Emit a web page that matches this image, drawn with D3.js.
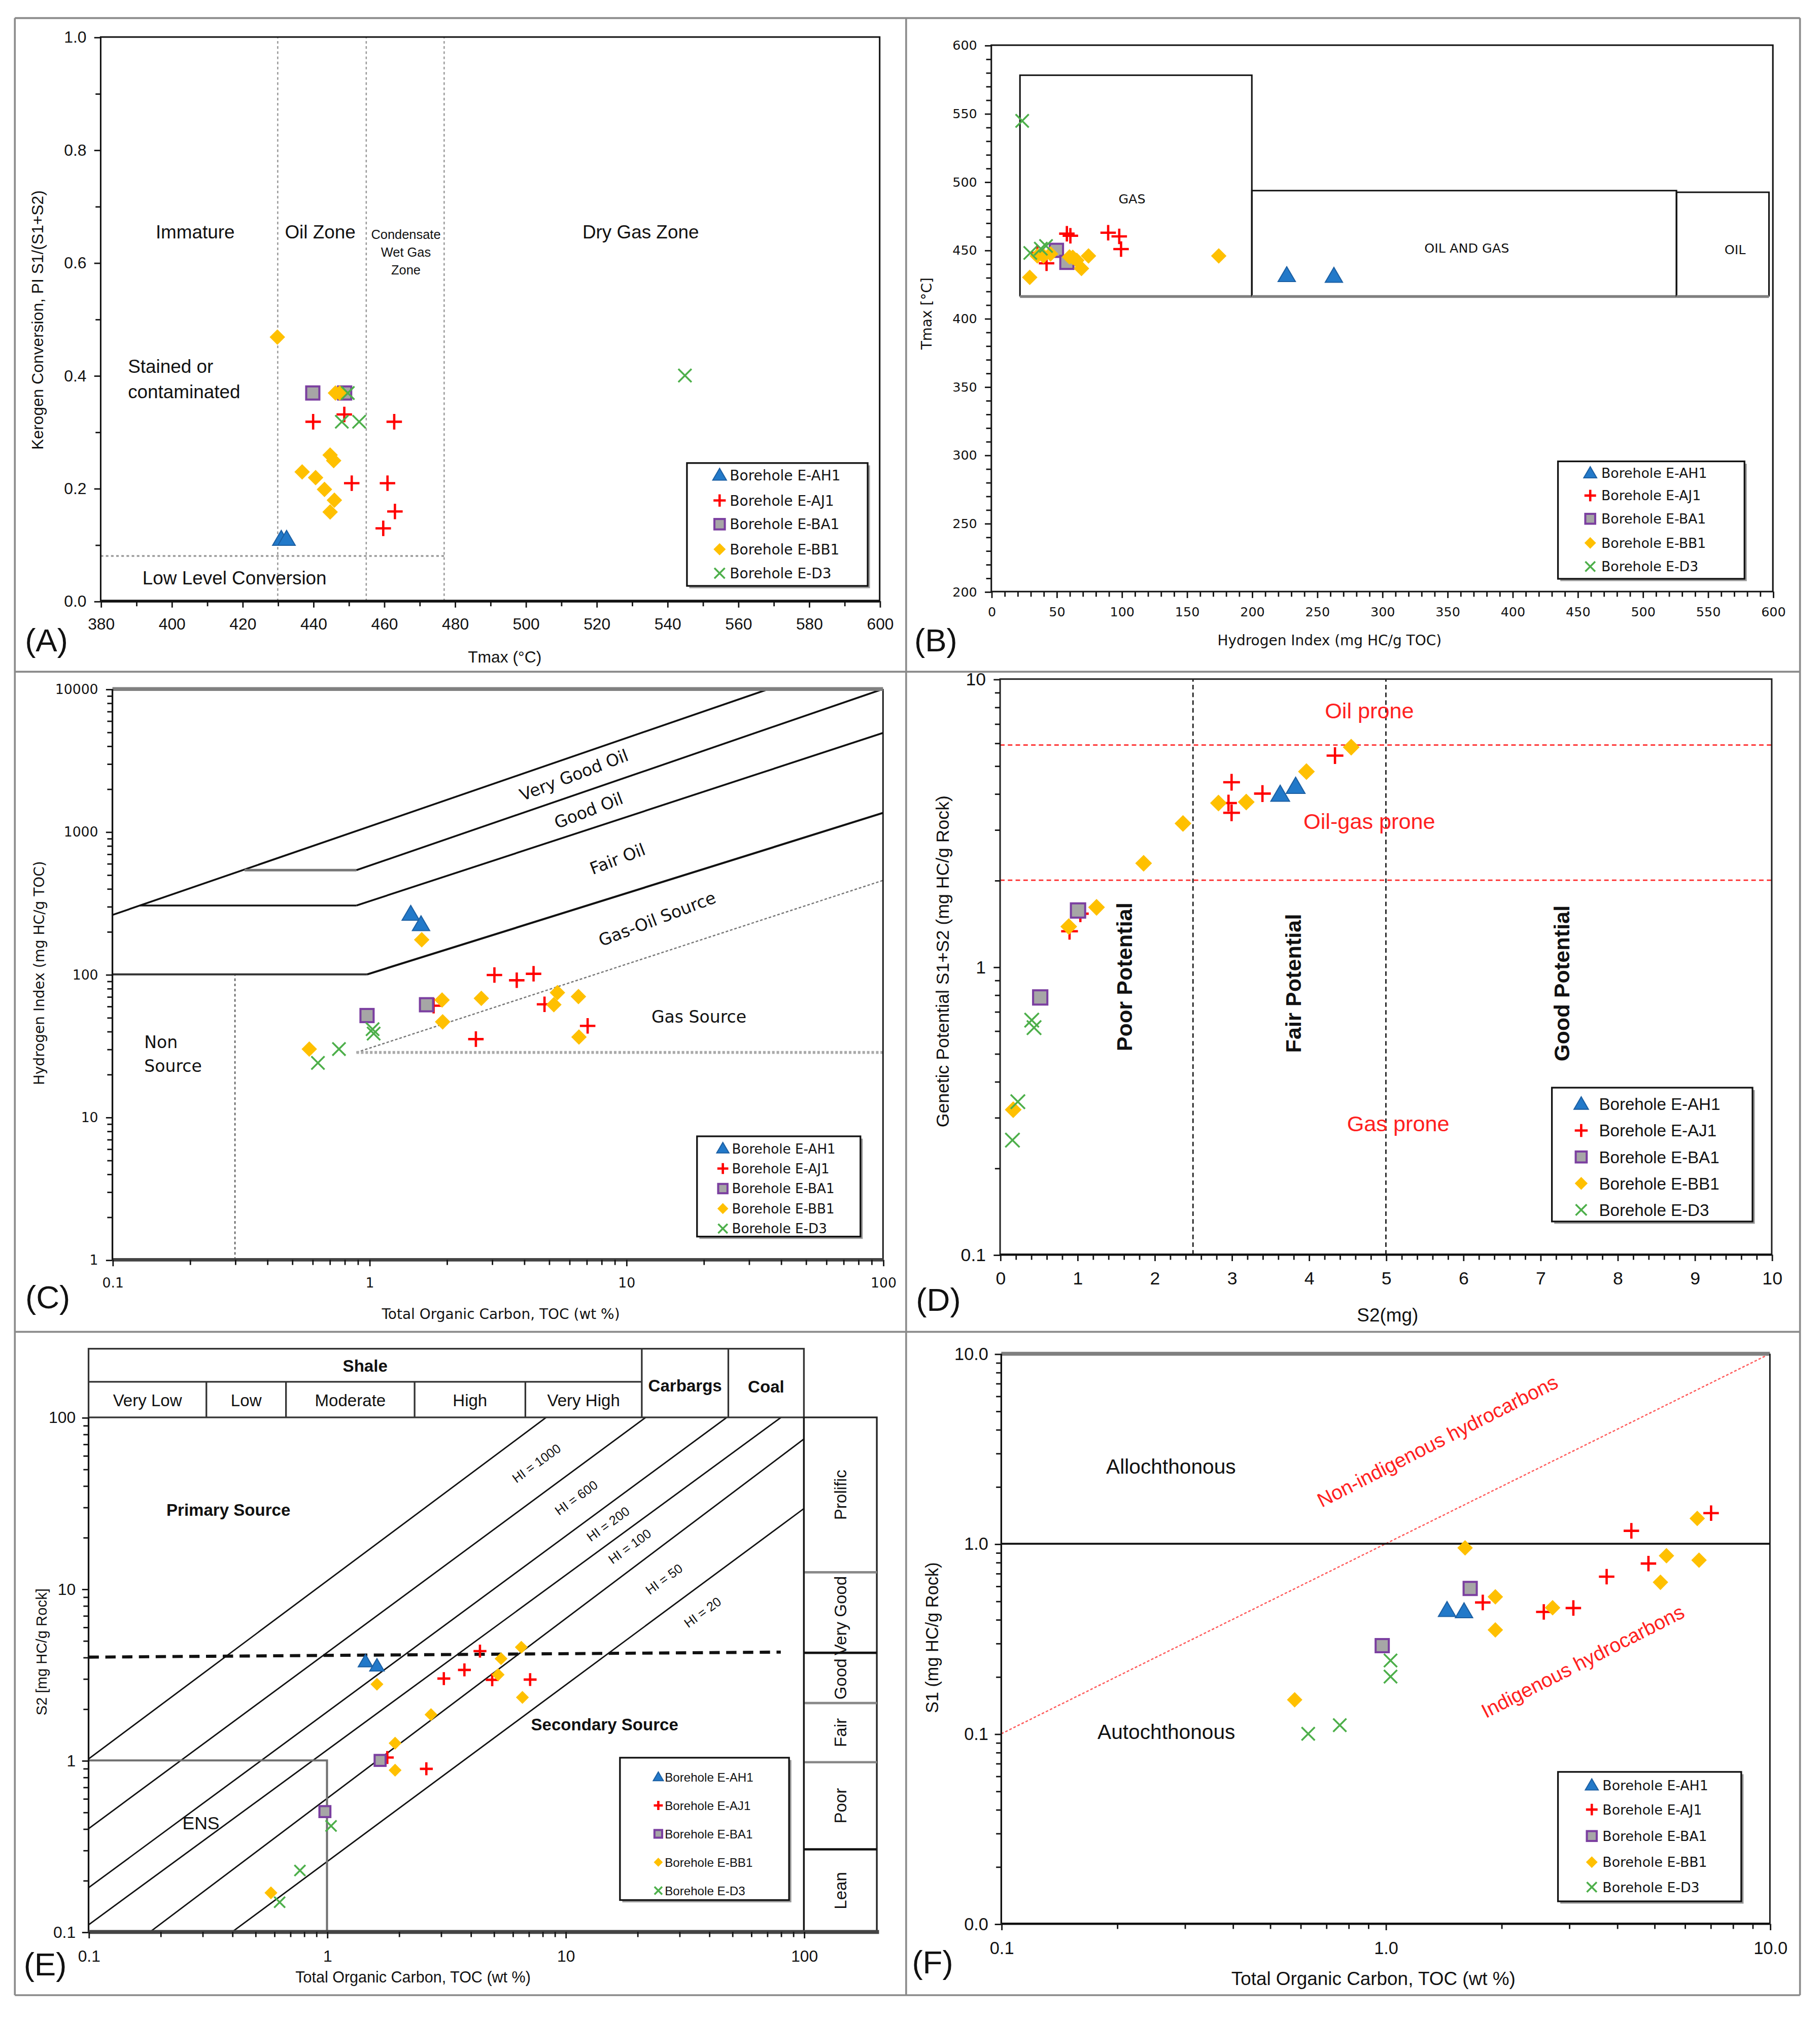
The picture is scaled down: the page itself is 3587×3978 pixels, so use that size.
<!DOCTYPE html>
<html><head><meta charset="utf-8">
<script src="https://cdn.jsdelivr.net/npm/d3@7"></script>
<style>html,body{margin:0;padding:0;background:#fff;} svg{display:block;}</style>
</head><body><svg id="c"></svg>
<script>
// ================= DATA =================
const seriesNames = ["Borehole E-AH1","Borehole E-AJ1","Borehole E-BA1","Borehole E-BB1","Borehole E-D3"];
const seriesKeys  = ["AH1","AJ1","BA1","BB1","D3"];

// Panel A : [Tmax (°C), PI = S1/(S1+S2)]
const aAH1 = [[431,0.11],[432.5,0.11]];
const aAJ1 = [[440,0.318],[448.8,0.331],[462.9,0.318],[450.9,0.209],[461,0.209],[463.1,0.159],[459.8,0.129]];
const aBA1 = [[439.9,0.369],[448.9,0.369]];
const aBB1 = [[429.9,0.468],[446.3,0.369],[447.5,0.369],[444.8,0.259],[445.8,0.249],[436.9,0.229],[440.7,0.219],[443.2,0.198],[446,0.179],[444.8,0.158]];
const aD3  = [[449.8,0.369],[448.1,0.318],[453,0.318],[545,0.40]];
const aZoneLimits = [430,455,477];      // Tmax boundaries
const aLowConv = 0.08;                  // PI boundary

// Panel B : [HI, Tmax]
const bAH1 = [[226.8,431.5],[263,431]];
const bAJ1 = [[58,462],[60.7,460.5],[89.7,462.7],[98.2,460],[99.6,450.7],[42.4,440.3],[35.3,447.9]];
const bBA1 = [[50,449.8],[58,441]];
const bBB1 = [[29.5,430],[35.3,445.7],[40,445.7],[45.5,447.2],[62.5,444.7],[65.6,442.5],[69.2,436.5],[74.6,445.7],[174.6,445.7],[60,445]];
const bD3  = [[23.7,544.6],[29.9,447.9],[38,451],[42,453]];
// boxes: [HI min, HI max, Tmax min, Tmax max]
const bBoxGas    = [22,200,416,578];
const bBoxOilGas = [200,526,416,493.5];
const bBoxOil    = [526,597,416,492.3];

// Panel C : [TOC, HI]
const cAH1 = [[1.45,265],[1.59,224]];
const cAJ1 = [[3.07,99],[3.75,91],[4.36,101],[4.81,61.7],[7.08,43.6],[2.6,35.2],[1.78,60.4]];
const cBA1 = [[0.98,51.5],[1.67,61.3]];
const cBB1 = [[1.6,175],[1.92,66.2],[1.93,46.5],[2.73,68],[5.4,74.5],[5.23,61.3],[6.52,70],[6.55,36.4],[0.584,30]];
const cD3  = [[0.762,30],[0.631,24],[1.03,41.3],[1.04,38.5]];
const cLineVeryGood = [[0.1,261],[35.9,10000]];
const cStepVeryGood = [[0.327,538],[0.891,538]];
const cLineGood     = [[0.891,538],[100,10000]];
const cStepGood     = [[0.128,304],[0.891,304]];
const cLineFair     = [[0.891,304],[100,4924]];
const cStepFair     = [[0.1,100],[0.98,100]];
const cLineGasOil   = [[0.98,100],[100,1355]];
const cDotDiag      = [[0.891,28.4],[100,456]];
const cDotHoriz     = [[0.891,28.4],[100,28.4]];
const cDotVert      = [[0.3,1],[0.3,100]];

// Panel D : [S2, S1+S2]
const dAH1 = [[3.63,3.97],[3.83,4.23]];
const dAJ1 = [[3.0,4.38],[2.96,3.71],[3.0,3.43],[3.4,4.0],[4.34,5.42],[0.9,1.33],[1.04,1.53]];
const dBA1 = [[1.01,1.57],[0.52,0.783]];
const dBB1 = [[4.55,5.8],[3.97,4.77],[2.83,3.71],[3.19,3.74],[2.37,3.15],[1.86,2.29],[1.25,1.61],[0.89,1.38],[0.17,0.319]];
const dD3  = [[0.41,0.653],[0.44,0.615],[0.23,0.34],[0.16,0.25]];
const dPotentialLimits = [2.5,5];
const dProneLimits = [5.9,2.0];

// Panel E : [TOC, S2]
const eAH1 = [[1.45,3.77],[1.62,3.56]];
const eAJ1 = [[4.38,4.34],[3.77,3.37],[3.09,3.0],[4.93,2.95],[7.11,2.96],[2.61,0.893],[1.79,1.04]];
const eBA1 = [[1.67,1.0],[0.98,0.503]];
const eBB1 = [[6.53,4.57],[5.37,3.92],[5.22,3.16],[6.6,2.33],[1.62,2.78],[2.73,1.85],[1.93,1.26],[1.93,0.877],[0.582,0.169]];
const eD3  = [[1.04,0.415],[0.77,0.228],[0.633,0.149]];
const eHILabels = ["HI = 1000","HI = 600","HI = 200","HI = 100","HI = 50","HI = 20"];
const eHILines = [
  [[0.1,1.02],[8.3,100]],
  [[0.1,0.40],[21.7,100]],
  [[0.1,0.181],[47.5,100]],
  [[0.1,0.11],[80.2,100]],
  [[0.181,0.1],[100,74.8]],
  [[0.40,0.1],[100,29.4]]
];
const eHILabelAt = [[7.56,54],[11.1,34],[15.1,23.9],[18.6,17.7],[25.9,11.4],[37.6,7.3]];
const eDashLine = [[0.1,4.0],[80,4.28]];
const eENS = [1,1];   // TOC, S2 limits of ENS box
const eShaleClasses = ["Very Low","Low","Moderate","High","Very High"];
const eShaleBounds  = [0.1,0.312,0.673,2.33,6.79,20.9];
const eRockBounds   = [20.9,48.2,100];   // Carbargs, Coal
const eS2Classes = ["Prolific","Very Good","Good","Fair","Poor","Lean"];
const eS2Bounds  = [100,12.5,4.24,2.16,0.976,0.303,0.1];

// Panel F : [TOC, S1]
const fAH1 = [[1.445,0.447],[1.6,0.44]];
const fAJ1 = [[7.03,1.45],[4.36,1.17],[4.83,0.787],[3.76,0.671],[3.08,0.459],[2.58,0.438],[1.79,0.491]];
const fBA1 = [[1.66,0.582],[0.98,0.291]];
const fBB1 = [[6.47,1.36],[5.38,0.865],[6.54,0.82],[5.19,0.627],[1.61,0.952],[1.93,0.526],[2.72,0.461],[1.93,0.352],[0.58,0.151]];
const fD3  = [[1.03,0.243],[1.03,0.2],[0.76,0.111],[0.629,0.1]];
const fDiag = [[0.1,0.1],[10,10]];
const fS1Limit = 1.0;

// ================= STYLE =================
const FN = "'Liberation Sans Narrow','Arial Narrow','Liberation Sans',Arial,sans-serif";
const FT = "'DejaVu Sans',Verdana,sans-serif";
const COL = {AH1:"#2279C9", AJ1:"#FF0000", BA1:"#A6A6A6", BB1:"#FFC000", D3:"#4DAF4A"};

const svg = d3.select("#c").attr("width",3587).attr("height",3978)
  .attr("viewBox","0 0 1410 1563.7");
svg.append("rect").attr("width",1410).attr("height",1563.7).attr("fill","#fff");

// frames
const frameG = svg.append("g").attr("stroke","#8a8a8a").attr("stroke-width",1.4);
[[11.5,14,1394.5,14],[11.5,520.5,1394.5,520.5],[11.5,1032,1394.5,1032],[11.5,1546,1394.5,1546],
 [11.5,14,11.5,1546],[702,14,702,1546],[1394.5,14,1394.5,1546]].forEach(l=>
  frameG.append("line").attr("x1",l[0]).attr("y1",l[1]).attr("x2",l[2]).attr("y2",l[3]));

// ---------- marker helper ----------
function marker(g, key, cx, cy, s){
  const h = s/2;
  if(key==="AH1"){
    const t=h*1.12;
    g.append("path").attr("d",`M${cx},${cy-t*1.0}L${cx+t},${cy+t*0.72}L${cx-t},${cy+t*0.72}Z`)
     .attr("fill",COL.AH1).attr("stroke","#1b5fa3").attr("stroke-width",0.8);
  } else if(key==="AJ1"){
    g.append("path").attr("d",`M${cx-h},${cy}H${cx+h}M${cx},${cy-h}V${cy+h}`)
     .attr("stroke",COL.AJ1).attr("stroke-width",1.8).attr("fill","none");
  } else if(key==="BA1"){
    const q=h*0.85;
    g.append("rect").attr("x",cx-q).attr("y",cy-q).attr("width",2*q).attr("height",2*q)
     .attr("fill",COL.BA1).attr("stroke","#7B3FA0").attr("stroke-width",1.6);
  } else if(key==="BB1"){
    g.append("path").attr("d",`M${cx},${cy-h}L${cx+h},${cy}L${cx},${cy+h}L${cx-h},${cy}Z`)
     .attr("fill",COL.BB1);
  } else {
    const q=h*0.85;
    g.append("path").attr("d",`M${cx-q},${cy-q}L${cx+q},${cy+q}M${cx+q},${cy-q}L${cx-q},${cy+q}`)
     .attr("stroke",COL.D3).attr("stroke-width",1.4).attr("fill","none");
  }
}
function plotSeries(g, x, y, sets, s){
  seriesKeys.forEach((k,i)=>{
    sets[i].forEach(p=>marker(g,k,x(p[0]),y(p[1]),s));
  });
}
function legend(g, x0, y0, w, h, rows, symX, txtX, font, fs, s){
  g.append("rect").attr("x",x0+1.8).attr("y",y0+1.8).attr("width",w).attr("height",h).attr("fill","#9a9a9a");
  g.append("rect").attr("x",x0).attr("y",y0).attr("width",w).attr("height",h)
    .attr("fill","#fff").attr("stroke","#111").attr("stroke-width",1.3);
  seriesKeys.forEach((k,i)=>{
    marker(g,k,symX,rows[i],s);
    g.append("text").attr("x",txtX).attr("y",rows[i]).attr("dy","0.36em")
      .attr("font-family",font).attr("font-size",fs).attr("fill","#111").text(seriesNames[i]);
  });
}
function styleAxis(sel, font, fs){
  sel.select(".domain").remove();
  sel.selectAll("line").attr("stroke","#111").attr("stroke-width",1.1);
  sel.selectAll("text").attr("font-family",font).attr("font-size",fs).attr("fill","#111");
}
function xAxis(g, x, yPos, majors, minors, fmt, font, fs, pad){
  if(minors) styleAxis(g.append("g").attr("transform",`translate(0,${yPos})`)
     .call(d3.axisBottom(x).tickValues(minors).tickFormat("").tickSize(4).tickSizeOuter(0)),font,fs);
  styleAxis(g.append("g").attr("transform",`translate(0,${yPos})`)
     .call(d3.axisBottom(x).tickValues(majors).tickFormat(fmt).tickSize(5).tickSizeOuter(0).tickPadding(pad)),font,fs);
}
function yAxis(g, y, xPos, majors, minors, fmt, font, fs, pad){
  if(minors) styleAxis(g.append("g").attr("transform",`translate(${xPos},0)`)
     .call(d3.axisLeft(y).tickValues(minors).tickFormat("").tickSize(4).tickSizeOuter(0)),font,fs);
  styleAxis(g.append("g").attr("transform",`translate(${xPos},0)`)
     .call(d3.axisLeft(y).tickValues(majors).tickFormat(fmt).tickSize(5).tickSizeOuter(0).tickPadding(pad)),font,fs);
}
function txt(g, x, y, s, font, fs, opt={}){
  const t = g.append("text").attr("x",x).attr("y",y).attr("font-family",font).attr("font-size",fs)
    .attr("fill",opt.fill||"#111").attr("text-anchor",opt.anchor||"middle").attr("dy",opt.dy||"0.35em")
    .attr("font-weight",opt.bold?"bold":"normal").text(s);
  if(opt.rot!==undefined) t.attr("transform",`rotate(${opt.rot},${x},${y})`);
  return t;
}
function seg(g, pts, x, y, stroke, w, dash){
  const l = g.append("path").attr("d",d3.line().x(p=>x(p[0])).y(p=>y(p[1]))(pts))
    .attr("fill","none").attr("stroke",stroke).attr("stroke-width",w);
  if(dash) l.attr("stroke-dasharray",dash);
  return l;
}
function logMinor(x){ return x.ticks().filter(v=>Math.abs(Math.log10(v)-Math.round(Math.log10(v)))>1e-6); }
function logMajor(x){ return x.ticks().filter(v=>Math.abs(Math.log10(v)-Math.round(Math.log10(v)))<1e-6); }

// ================= PANEL A =================
{
  const g = svg.append("g");
  const x = d3.scaleLinear().domain([380,600]).range([78,681.5]);
  const y = d3.scaleLinear().domain([0,1]).range([465.8,28.7]);
  aZoneLimits.forEach(v=>seg(g,[[v,0],[v,1]],x,y,"#9a9a9a",1,"2,2"));
  seg(g,[[380,aLowConv],[aZoneLimits[2],aLowConv]],x,y,"#9a9a9a",1.4,"2,2");
  g.append("rect").attr("x",78).attr("y",28.7).attr("width",603.5).attr("height",437.1)
    .attr("fill","none").attr("stroke","#111").attr("stroke-width",1.2);
  g.append("line").attr("x1",78).attr("x2",681.5).attr("y1",465.8).attr("y2",465.8).attr("stroke","#111").attr("stroke-width",2.2);
  xAxis(g,x,465.8,d3.range(380,601,20),d3.range(390,600,20),d3.format("d"),FN,12.5,8);
  yAxis(g,y,78,d3.range(0,1.01,0.2),d3.range(0.1,1,0.2),d3.format(".1f"),FN,12.5,6);
  txt(g,391,509,"Tmax (°C)",FN,12.5);
  txt(g,29,248,"Kerogen Conversion, PI S1/(S1+S2)",FN,12.5,{rot:-90});
  txt(g,36,496,"(A)",FN,25);
  txt(g,x(406.7),y(0.655),"Immature",FN,14.5);
  txt(g,x(442),y(0.655),"Oil Zone",FN,14.5);
  txt(g,x(466.2),y(0.650),"Condensate",FN,10);
  txt(g,x(466.2),y(0.619),"Wet Gas",FN,10);
  txt(g,x(466.2),y(0.587),"Zone",FN,10);
  txt(g,x(532.5),y(0.655),"Dry Gas Zone",FN,14.5);
  txt(g,x(387.7),y(0.416),"Stained or",FN,14.5,{anchor:"start"});
  txt(g,x(387.7),y(0.371),"contaminated",FN,14.5,{anchor:"start"});
  txt(g,x(417.8),y(0.041),"Low Level Conversion",FN,14.5);
  plotSeries(g,x,y,[aAH1,aAJ1,aBA1,aBB1,aD3],12);
  legend(g,532.2,358.8,140,95.2,[368.2,387.8,406.2,425.6,444.2],557.5,565.4,FT,11,9.5);
}

// ================= PANEL B =================
{
  const g = svg.append("g");
  const x = d3.scaleLinear().domain([0,600]).range([768,1373.5]);
  const y = d3.scaleLinear().domain([200,600]).range([458.4,35]);
  g.append("rect").attr("x",768).attr("y",35).attr("width",605.5).attr("height",423.4)
    .attr("fill","none").attr("stroke","#111").attr("stroke-width",1.2);
  [bBoxGas,bBoxOilGas,bBoxOil].forEach(b=>{
    g.append("path").attr("d",`M${x(b[0])},${y(b[2])}V${y(b[3])}H${x(b[1])}V${y(b[2])}`)
      .attr("fill","none").attr("stroke","#111").attr("stroke-width",1.2);
    g.append("line").attr("x1",x(b[0])).attr("x2",x(b[1])).attr("y1",y(b[2])).attr("y2",y(b[2]))
      .attr("stroke","#808080").attr("stroke-width",2.2);
  });
  xAxis(g,x,458.4,d3.range(0,601,50),d3.range(0,600,10).filter(v=>v%50),d3.format("d"),FT,10,7);
  yAxis(g,y,768,d3.range(200,601,50),d3.range(200,600,10).filter(v=>v%50),d3.format("d"),FT,10,6);
  txt(g,1030,496,"Hydrogen Index (mg HC/g TOC)",FT,11);
  txt(g,718,243,"Tmax [°C]",FT,11,{rot:-90});
  txt(g,725,496,"(B)",FN,25);
  txt(g,x(108),y(487.5),"GAS",FT,10);
  txt(g,x(365),y(451.6),"OIL AND GAS",FT,10);
  txt(g,x(571),y(450.4),"OIL",FT,10);
  plotSeries(g,x,y,[bAH1,bAJ1,bBA1,bBB1,bD3],12);
  legend(g,1207,357.5,144.5,91,[366.7,384,402,420.7,439],1232,1240.6,FT,10.5,9);
}

// ================= PANEL C =================
{
  const g = svg.append("g");
  const x = d3.scaleLog().domain([0.1,100]).range([87.1,684.1]);
  const y = d3.scaleLog().domain([1,10000]).range([976.2,533.9]);
  seg(g,cDotVert,x,y,"#555",0.9,"2,2");
  seg(g,cDotDiag,x,y,"#777",1,"2,1.5");
  seg(g,cDotHoriz,x,y,"#aaa",2.2,"2,1.5");
  seg(g,cLineVeryGood,x,y,"#111",1.4);
  seg(g,cStepVeryGood,x,y,"#777",2);
  seg(g,cLineGood,x,y,"#111",1.4);
  seg(g,cStepGood,x,y,"#111",1.4);
  seg(g,cLineFair,x,y,"#111",1.4);
  seg(g,cStepFair,x,y,"#333",1.6);
  seg(g,cLineGasOil,x,y,"#111",1.6);
  g.append("line").attr("x1",684.1).attr("x2",684.1).attr("y1",533.9).attr("y2",976.2).attr("stroke","#111").attr("stroke-width",1.1);
  g.append("line").attr("x1",87.1).attr("x2",684.1).attr("y1",533.9).attr("y2",533.9).attr("stroke","#808080").attr("stroke-width",3);
  g.append("line").attr("x1",87.1).attr("x2",684.1).attr("y1",976.2).attr("y2",976.2).attr("stroke","#444").attr("stroke-width",2.6);
  g.append("line").attr("x1",87.1).attr("x2",87.1).attr("y1",533.9).attr("y2",976.2).attr("stroke","#111").attr("stroke-width",1.3);
  xAxis(g,x,976.2,logMajor(x),logMinor(x),d3.format("~g"),FT,10.5,9);
  yAxis(g,y,87.1,logMajor(y),logMinor(y),d3.format("d"),FT,10.5,6);
  txt(g,388,1018,"Total Organic Carbon, TOC (wt %)",FT,11);
  txt(g,30.5,754,"Hydrogen Index (mg HC/g TOC)",FT,11,{rot:-90});
  txt(g,37,1005,"(C)",FN,25);
  txt(g,x(6.26),y(2494),"Very Good  Oil",FT,13,{rot:-21});
  txt(g,x(7.14),y(1409),"Good  Oil",FT,13,{rot:-21});
  txt(g,x(9.25),y(644),"Fair Oil",FT,13,{rot:-21});
  txt(g,x(13.2),y(245),"Gas-Oil Source",FT,13,{rot:-21});
  txt(g,x(19.2),y(50.4),"Gas Source",FT,13);
  txt(g,x(0.133),y(33.6),"Non",FT,13,{anchor:"start"});
  txt(g,x(0.133),y(22.8),"Source",FT,13,{anchor:"start"});
  plotSeries(g,x,y,[cAH1,cAJ1,cBA1,cBB1,cD3],12);
  legend(g,540,880.5,126.6,77.7,[890,905.5,921,936.5,952],560,567,FT,10.3,8.5);
}

// ================= PANEL D =================
{
  const g = svg.append("g");
  const x = d3.scaleLinear().domain([0,10]).range([774.8,1372.6]);
  const y = d3.scaleLog().domain([0.1,10]).range([972.2,526.2]);
  dPotentialLimits.forEach(v=>seg(g,[[v,0.1],[v,10]],x,y,"#222",1.1,"3.5,2.5"));
  dProneLimits.forEach(v=>seg(g,[[0,v],[10,v]],x,y,"#ff2a2a",1.1,"3.5,2.5"));
  g.append("rect").attr("x",774.8).attr("y",526.2).attr("width",597.8).attr("height",446)
    .attr("fill","none").attr("stroke","#222").attr("stroke-width",1.2);
  g.append("line").attr("x1",774.8).attr("x2",1372.6).attr("y1",972.2).attr("y2",972.2).attr("stroke","#111").attr("stroke-width",1.8);
  xAxis(g,x,972.2,d3.range(0,10.01,1),d3.range(0,10,0.2).filter(v=>Math.abs(v-Math.round(v))>1e-6),d3.format("d"),FN,14,8);
  yAxis(g,y,774.8,logMajor(y),logMinor(y),d3.format("~g"),FN,14,6);
  txt(g,1075,1019,"S2(mg)",FN,14.5);
  txt(g,730,745,"Genetic Potential S1+S2 (mg HC/g Rock)",FN,14,{rot:-90});
  txt(g,727,1007,"(D)",FN,25);
  txt(g,1060.9,550.5,"Oil prone",FN,17,{fill:"#ff2020"});
  txt(g,1060.9,636.3,"Oil-gas prone",FN,17,{fill:"#ff2020"});
  txt(g,1083.2,870.5,"Gas prone",FN,17,{fill:"#ff2020"});
  txt(g,871,757,"Poor  Potential",FN,17,{rot:-90,bold:true});
  txt(g,1002,762,"Fair Potential",FN,17,{rot:-90,bold:true});
  txt(g,1210,762,"Good Potential",FN,17,{rot:-90,bold:true});
  plotSeries(g,x,y,[dAH1,dAJ1,dBA1,dBB1,dD3],13);
  legend(g,1202.3,842.8,155.4,103.7,[855.5,876,896.5,917,937.5],1225,1238.8,FN,13,10);
}

// ================= PANEL E =================
{
  const g = svg.append("g");
  const x = d3.scaleLog().domain([0.1,100]).range([68.6,622.8]);
  const y = d3.scaleLog().domain([0.1,100]).range([1497,1098.3]);
  svg.append("clipPath").attr("id","clipE").append("rect")
    .attr("x",68.6).attr("y",1098.3).attr("width",554.2).attr("height",398.7);
  const lg = g.append("g").attr("clip-path","url(#clipE)");
  eHILines.forEach(l=>seg(lg,l,x,y,"#111",1.1));
  seg(lg,eDashLine,x,y,"#111",2.4,"8,5");
  // ENS box
  g.append("path").attr("d",`M${x(0.1)},${y(eENS[1])}H${x(eENS[0])}V${y(0.1)}`)
    .attr("fill","none").attr("stroke","#707070").attr("stroke-width",1.6);
  // header table
  const tTop=1045.1, tMid=1070.7, tBot=1098.3;
  const hg = g.append("g").attr("stroke","#333").attr("stroke-width",1.3).attr("fill","none");
  hg.append("rect").attr("x",x(0.1)).attr("y",tTop).attr("width",x(100)-x(0.1)).attr("height",tBot-tTop);
  hg.append("line").attr("x1",x(0.1)).attr("x2",x(eShaleBounds[5])).attr("y1",tMid).attr("y2",tMid);
  eShaleBounds.slice(1,5).forEach(v=>hg.append("line").attr("x1",x(v)).attr("x2",x(v)).attr("y1",tMid).attr("y2",tBot));
  eRockBounds.slice(0,2).forEach(v=>hg.append("line").attr("x1",x(v)).attr("x2",x(v)).attr("y1",tTop).attr("y2",tBot));
  txt(g,(x(0.1)+x(eShaleBounds[5]))/2,1058.5,"Shale",FN,13,{bold:true});
  eShaleClasses.forEach((c,i)=>txt(g,(x(eShaleBounds[i])+x(eShaleBounds[i+1]))/2,1085,c,FN,13));
  txt(g,(x(eRockBounds[0])+x(eRockBounds[1]))/2,1073.5,"Carbargs",FN,13,{bold:true});
  txt(g,(x(eRockBounds[1])+x(eRockBounds[2]))/2,1074.5,"Coal",FN,13,{bold:true});
  // right S2 class column
  const cx0=622.8, cx1=679.3;
  g.append("rect").attr("x",cx0).attr("y",1098.3).attr("width",cx1-cx0).attr("height",398.7)
    .attr("fill","none").attr("stroke","#222").attr("stroke-width",1.3);
  const divCol=["#888","#111","#888","#888","#111"];
  eS2Bounds.slice(1,6).forEach((v,i)=>g.append("line").attr("x1",cx0).attr("x2",cx1).attr("y1",y(v)).attr("y2",y(v))
     .attr("stroke",divCol[i]).attr("stroke-width",1.8));
  eS2Classes.forEach((c,i)=>{
    let cy=(y(eS2Bounds[i])+y(eS2Bounds[i+1]))/2;
    if(c==="Good") cy=1301; if(c==="Very Good") cy=1252;
    txt(g,651,cy,c,FN,13,{rot:-90});
  });
  g.append("line").attr("x1",622.8).attr("x2",622.8).attr("y1",1098.3).attr("y2",1497).attr("stroke","#111").attr("stroke-width",1.2);
  g.append("line").attr("x1",68.6).attr("x2",68.6).attr("y1",1098.3).attr("y2",1497).attr("stroke","#111").attr("stroke-width",1.3);
  g.append("line").attr("x1",68.6).attr("x2",681).attr("y1",1497).attr("y2",1497).attr("stroke","#444").attr("stroke-width",3);
  xAxis(g,x,1497,logMajor(x),logMinor(x),d3.format("~g"),FN,12.5,9);
  yAxis(g,y,68.6,logMajor(y),logMinor(y),d3.format("~g"),FN,12.5,5);
  txt(g,320,1532,"Total Organic Carbon, TOC (wt %)",FN,12);
  txt(g,32,1280,"S2 [mg HC/g Rock]",FN,11.5,{rot:-90});
  txt(g,35,1522,"(E)",FN,25);
  eHILabels.forEach((s,i)=>txt(g,x(eHILabelAt[i][0]),y(eHILabelAt[i][1]),s,FN,10,{rot:-36}));
  txt(g,x(0.386),y(28.9),"Primary Source",FN,13,{bold:true});
  txt(g,x(14.6),y(1.62),"Secondary Source",FN,13,{bold:true});
  txt(g,x(0.296),y(0.432),"ENS",FN,14);
  plotSeries(g,x,y,[eAH1,eAJ1,eBA1,eBB1,eD3],10);
  legend(g,480.3,1362,131,110.3,[1377,1399,1421,1443,1465],510,515,FN,9.5,7);
}

// ================= PANEL F =================
{
  const g = svg.append("g");
  const x = d3.scaleLog().domain([0.1,10]).range([775.7,1371.2]);
  const y = d3.scaleLog().domain([0.01,10]).range([1490.7,1049]);
  seg(g,fDiag,x,y,"#ff5a5a",1,"2,1.5");
  seg(g,[[0.1,fS1Limit],[10,fS1Limit]],x,y,"#111",1.5);
  g.append("line").attr("x1",775.7).attr("x2",1371.2).attr("y1",1049).attr("y2",1049).attr("stroke","#808080").attr("stroke-width",3);
  g.append("line").attr("x1",1371.2).attr("x2",1371.2).attr("y1",1049).attr("y2",1490.7).attr("stroke","#111").attr("stroke-width",1.1);
  g.append("line").attr("x1",775.7).attr("x2",1371.2).attr("y1",1490.7).attr("y2",1490.7).attr("stroke","#111").attr("stroke-width",1.8);
  g.append("line").attr("x1",775.7).attr("x2",775.7).attr("y1",1049).attr("y2",1490.7).attr("stroke","#111").attr("stroke-width",1.3);
  xAxis(g,x,1490.7,logMajor(x),logMinor(x),d3.format(".1f"),FN,13.5,9);
  yAxis(g,y,775.7,logMajor(y),logMinor(y),d3.format(".1f"),FN,13.5,5);
  txt(g,1064,1533,"Total Organic Carbon, TOC (wt %)",FN,14.5);
  txt(g,722,1269,"S1 (mg HC/g Rock)",FN,13.5,{rot:-90});
  txt(g,722.5,1520.4,"(F)",FN,25);
  txt(g,907.2,1136.3,"Allochthonous",FN,16);
  txt(g,903.6,1342,"Autochthonous",FN,16);
  txt(g,1113.6,1116.6,"Non-indigenous hydrocarbons",FN,15.5,{rot:-27,fill:"#ff2020"});
  txt(g,1226.2,1287.3,"Indigenous hydrocarbons",FN,15.5,{rot:-27,fill:"#ff2020"});
  plotSeries(g,x,y,[fAH1,fAJ1,fBA1,fBB1,fD3],12);
  legend(g,1207,1373,142,100.3,[1383.4,1402.2,1422.7,1442.9,1462.3],1233.2,1241.5,FT,10.5,9);
}
</script></body></html>
